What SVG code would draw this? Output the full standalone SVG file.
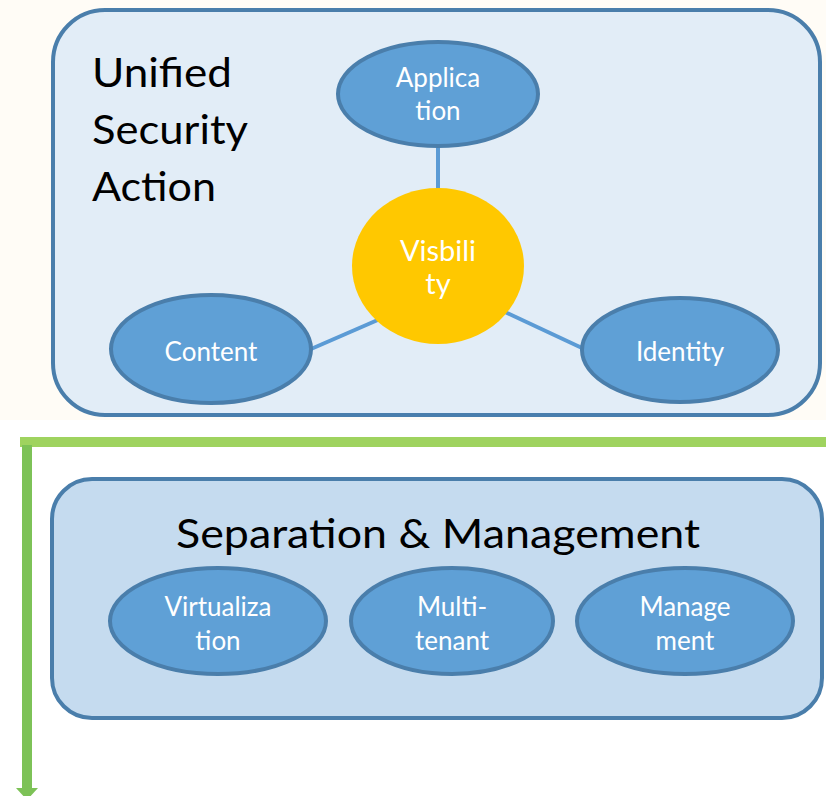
<svg xmlns="http://www.w3.org/2000/svg" width="826" height="796" viewBox="0 0 826 796">
<style>
.box{stroke:#4A7EAB;stroke-width:4}
.ell{fill:#5FA0D6;stroke:#4A7EAB;stroke-width:4}
.lbl{font-family:Lato,"Liberation Sans",sans-serif;fill:#FFFFFF;text-anchor:middle;font-size:26px}
.hd{font-family:Lato,"Liberation Sans",sans-serif;fill:#000000;font-size:41px}
.con{stroke:#5B9BD5;stroke-width:4;fill:none}
</style>
<rect x="0" y="0" width="826" height="420" fill="#FFFCF6"/>
<rect x="0" y="420" width="826" height="376" fill="#FFFFFF"/>
<g id="unified-group">
<rect class="box" x="53" y="10" width="767" height="405" rx="52" fill="#E2EDF7"/>
<text class="hd" x="92" y="87" textLength="140" lengthAdjust="spacingAndGlyphs">Unified</text>
<text class="hd" x="92" y="144" textLength="156" lengthAdjust="spacingAndGlyphs">Security</text>
<text class="hd" x="92" y="201" textLength="124" lengthAdjust="spacingAndGlyphs">Action</text>
</g>
<g id="connectors">
<line class="con" x1="438" y1="147" x2="438" y2="190"/>
<line class="con" x1="380" y1="319" x2="311" y2="349"/>
<line class="con" x1="505" y1="312" x2="582" y2="348"/>
<line x1="20" y1="442" x2="826" y2="442" stroke="#9FD35F" stroke-width="10"/>
<line x1="27" y1="445" x2="27" y2="789" stroke="#7DC257" stroke-width="10"/>
<polygon points="16,788 38,788 27,800" fill="#7DC257"/>
</g>
<g id="application">
<ellipse class="ell" cx="438" cy="94" rx="100" ry="52"/>
<text class="lbl" x="438" y="87">Applica</text>
<text class="lbl" x="438" y="120">tion</text>
</g>
<g id="visibility">
<ellipse cx="438" cy="266" rx="86" ry="78" fill="#FFC800"/>
<text class="lbl" x="438" y="261" style="font-size:29px">Visbili</text>
<text class="lbl" x="438" y="294" style="font-size:29px">ty</text>
</g>
<g id="content">
<ellipse class="ell" cx="211" cy="349" rx="100" ry="54"/>
<text class="lbl" x="211" y="361">Content</text>
</g>
<g id="identity">
<ellipse class="ell" cx="680" cy="350" rx="98" ry="52"/>
<text class="lbl" x="680" y="361">Identity</text>
</g>
<g id="separation-group">
<rect class="box" x="52" y="479" width="770" height="239" rx="40" fill="#C5DBEF"/>
<text class="hd" x="438" y="548" text-anchor="middle" textLength="524" lengthAdjust="spacingAndGlyphs">Separation &amp; Management</text>
</g>
<g id="virtualization">
<ellipse class="ell" cx="218" cy="621" rx="108" ry="53"/>
<text class="lbl" x="218" y="616">Virtualiza</text>
<text class="lbl" x="218" y="650">tion</text>
</g>
<g id="multi-tenant">
<ellipse class="ell" cx="452" cy="621" rx="101" ry="53"/>
<text class="lbl" x="452" y="616">Multi-</text>
<text class="lbl" x="452" y="650">tenant</text>
</g>
<g id="management">
<ellipse class="ell" cx="685" cy="621" rx="108" ry="53"/>
<text class="lbl" x="685" y="616">Manage</text>
<text class="lbl" x="685" y="650">ment</text>
</g>
</svg>
